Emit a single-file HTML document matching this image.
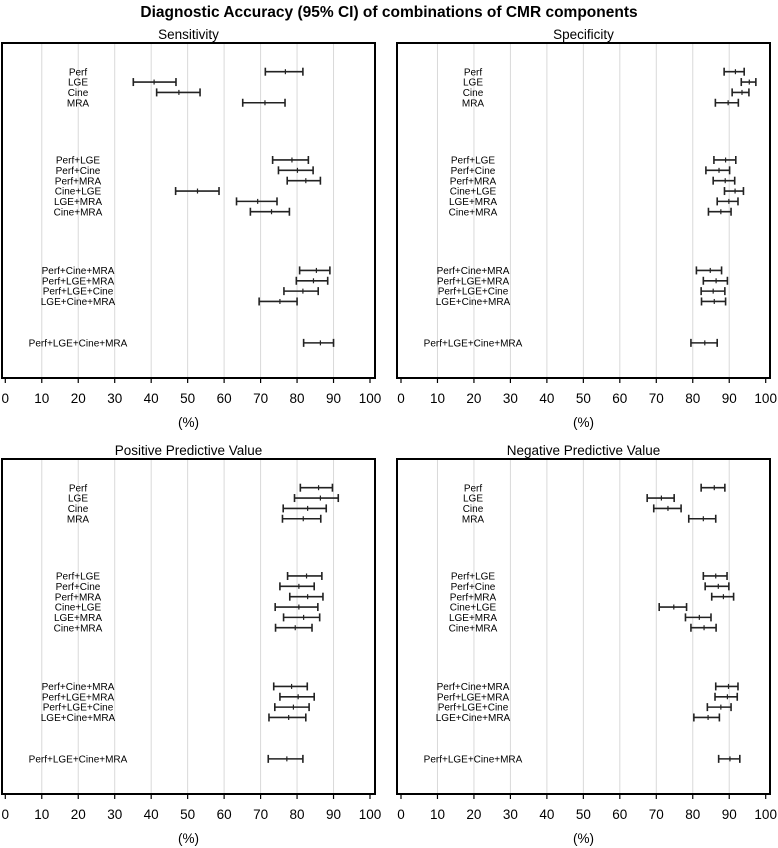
<!DOCTYPE html>
<html><head><meta charset="utf-8"><style>
body{margin:0;background:#fff;width:778px;height:848px;overflow:hidden}
svg{display:block;font-family:"Liberation Sans",Arial,sans-serif}
</style></head><body>
<svg id="c" width="778" height="848" viewBox="0 0 778 848">
<text x="389" y="17" text-anchor="middle" font-size="15.5" font-weight="bold">Diagnostic Accuracy (95% CI) of combinations of CMR components</text>
</svg>
<script>
const categories=["Perf","LGE","Cine","MRA","Perf+LGE","Perf+Cine","Perf+MRA","Cine+LGE","LGE+MRA","Cine+MRA","Perf+Cine+MRA","Perf+LGE+MRA","Perf+LGE+Cine","LGE+Cine+MRA","Perf+LGE+Cine+MRA"];
const rowSlots=[0,1,2,3,8.53,9.53,10.53,11.53,12.53,13.53,19.2,20.2,21.2,22.2,26.2];
const xTicks=[0,10,20,30,40,50,60,70,80,90,100];
const sensLow=[71.3,35.1,41.5,65.1,73.3,74.9,77.3,46.7,63.4,67.2,80.7,79.8,76.4,69.6,81.8];
const sensMid=[76.8,40.8,47.6,71.2,78.6,80.1,82.4,52.7,69.2,73.0,85.3,84.5,81.6,75.3,86.4];
const sensHigh=[81.6,46.8,53.4,76.7,83.1,84.4,86.4,58.6,74.5,77.9,89.0,88.4,85.8,80.0,90.0];
const specLow=[88.6,93.3,90.8,86.2,85.8,83.6,85.6,88.7,86.7,84.3,81.0,82.9,82.3,82.4,79.5];
const specMid=[91.7,95.5,93.5,89.7,89.0,87.2,88.9,91.6,89.9,87.7,84.8,86.4,85.6,85.9,83.3];
const specHigh=[94.1,97.3,95.4,92.5,91.8,90.1,91.5,93.9,92.4,90.5,87.9,89.5,88.8,89.0,86.7];
const ppvLow=[80.9,79.3,76.2,76.0,77.4,75.3,78.0,74.0,76.3,74.1,73.6,75.3,73.9,72.3,72.1];
const ppvMid=[85.9,86.4,82.9,81.7,82.6,80.5,82.9,80.5,81.8,79.5,78.5,80.3,79.0,77.7,77.2];
const ppvHigh=[89.7,91.3,88.0,86.5,86.8,84.7,87.1,85.7,86.2,84.1,82.8,84.7,83.3,82.4,81.6];
const npvLow=[82.3,67.5,69.3,78.9,82.9,83.4,85.2,70.8,78.0,79.5,86.3,86.1,84.0,80.3,87.1];
const npvMid=[85.9,71.4,73.2,82.9,86.3,87.0,88.4,74.8,81.8,83.1,89.8,89.5,87.7,84.2,90.2];
const npvHigh=[88.8,74.9,76.8,86.3,89.4,89.9,91.2,78.3,85.0,86.4,92.4,92.2,90.5,87.3,92.9];

const NS="http://www.w3.org/2000/svg";
const svg=document.getElementById('c');
function mk(tag,attrs,parent){const e=document.createElementNS(NS,tag);for(const k in attrs)e.setAttribute(k,attrs[k]);(parent||svg).appendChild(e);return e;}
function panel(title,slug,fl,fr,ft,fb,x0,x100,labX,lo,mid,hi){
  const g=mk('g',{});
  
  
  const xs=v=>x0+(x100-x0)*v/100;
  const ys=s=>ft+28.7+s*10.35;
  const t=mk('text',{x:(fl+fr)/2,y:ft-4,'text-anchor':'middle','font-size':13.5},g);t.textContent=title;
  
  
  xTicks.forEach(v=>{
    if(v>0&&v<100){const l=mk('line',{x1:xs(v),x2:xs(v),y1:ft,y2:fb,stroke:'#d9d9d9','stroke-width':1},g);
      
      }
    const tk=mk('line',{x1:xs(v),x2:xs(v),y1:fb,y2:fb+5,stroke:'#000','stroke-width':1.2},g);
    
    
    const tl=mk('text',{x:xs(v),y:fb+25,'text-anchor':'middle','font-size':13.5},g);tl.textContent=v;
    
    
  });
  const fr_=mk('rect',{x:fl,y:ft,width:fr-fl,height:fb-ft,fill:'none',stroke:'#000','stroke-width':2},g);
  
  
  const ax=mk('text',{x:(fl+fr)/2,y:fb+49,'text-anchor':'middle','font-size':13.5},g);ax.textContent='(%)';
  
  
  categories.forEach((c,i)=>{
    const y=ys(rowSlots[i]);
    const lb=mk('text',{x:labX,y:y+3.6,'text-anchor':'middle','font-size':10},g);lb.textContent=c;
    
    
    const eg=mk('g',{stroke:'#222','stroke-width':1.6},g);
    
    
    mk('line',{x1:xs(lo[i]),x2:xs(hi[i]),y1:y,y2:y},eg);
    mk('line',{x1:xs(lo[i]),x2:xs(lo[i]),y1:y-4,y2:y+4},eg);
    mk('line',{x1:xs(hi[i]),x2:xs(hi[i]),y1:y-4,y2:y+4},eg);
    mk('line',{x1:xs(mid[i]),x2:xs(mid[i]),y1:y-2.5,y2:y+2.5,'stroke-width':1.2},eg);
  });
}
panel('Sensitivity','sensitivity',2,375,43,378,5.3,370,78,sensLow,sensMid,sensHigh);
panel('Specificity','specificity',397,770,43,378,401,765.7,473,specLow,specMid,specHigh);
panel('Positive Predictive Value','ppv',2,375,459,794,5.3,370,78,ppvLow,ppvMid,ppvHigh);
panel('Negative Predictive Value','npv',397,770,459,794,401,765.7,473,npvLow,npvMid,npvHigh);
</script>
</body></html>
